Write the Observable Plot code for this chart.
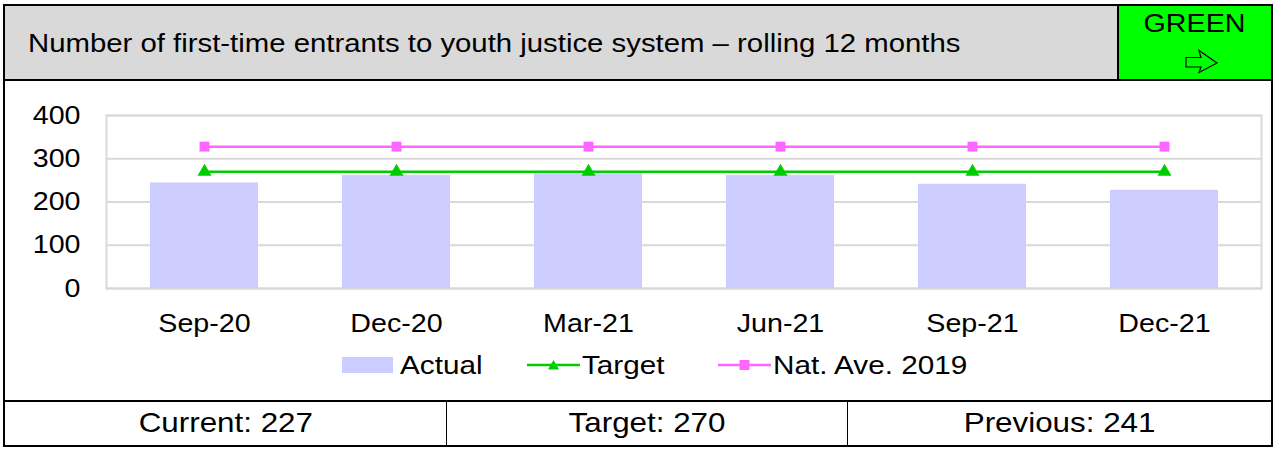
<!DOCTYPE html>
<html>
<head>
<meta charset="utf-8">
<script src="https://cdn.jsdelivr.net/npm/d3@7"></script>
<script src="https://cdn.jsdelivr.net/npm/@observablehq/plot@0.6"></script>
<style>
  html, body { margin: 0; padding: 0; background: #fff; }
  body { width: 1274px; height: 450px; position: relative; overflow: hidden;
         font-family: "Liberation Sans", Arial, sans-serif; color: #000; }
  .abs { position: absolute; }
  .sx { display: inline-block; transform: scaleX(1.12); transform-origin: left center; white-space: nowrap; }
  .sxc { display: inline-block; transform: scaleX(1.12); transform-origin: center center; white-space: nowrap; }
  #chart { position: absolute; left: 0; top: 82px; }
</style>
</head>
<body>
<!-- header fills -->
<div class="abs" style="left:5px;top:6px;width:1112px;height:73px;background:#d9d9d9"></div>
<div class="abs" style="left:1119px;top:6px;width:152px;height:73px;background:#00ff00"></div>
<!-- frame lines -->
<div class="abs" style="left:3px;top:4px;width:1270px;height:2px;background:#000"></div>
<div class="abs" style="left:3px;top:4px;width:2px;height:443px;background:#000"></div>
<div class="abs" style="left:1271px;top:4px;width:2px;height:443px;background:#000"></div>
<div class="abs" style="left:3px;top:79px;width:1270px;height:2px;background:#000"></div>
<div class="abs" style="left:1117px;top:4px;width:2px;height:77px;background:#000"></div>
<div class="abs" style="left:3px;top:400px;width:1270px;height:2px;background:#000"></div>
<div class="abs" style="left:3px;top:445px;width:1270px;height:2px;background:#000"></div>
<div class="abs" style="left:446px;top:400px;width:1px;height:46px;background:#000"></div>
<div class="abs" style="left:847px;top:400px;width:1px;height:46px;background:#000"></div>

<div id="title" class="abs" style="left:28px;top:28px;font-size:26.2px;line-height:30px"><span class="sx"></span></div>
<div id="status" class="abs" style="left:1119px;top:8px;width:152px;text-align:center;font-size:25.6px;line-height:30px"><span class="sxc"></span></div>
<svg class="abs" style="left:0;top:0" width="1274" height="90">
  <polygon points="1186,57.5 1201,57.5 1199,50.5 1217,63 1199,72.5 1201,67 1186,67" fill="none" stroke="#000" stroke-width="1.2" stroke-linejoin="miter"/>
</svg>

<div id="chart"></div>
<div id="legend" class="abs" style="left:0;top:348px;width:1274px;height:34px"></div>

<div id="cell0" class="abs" style="left:5px;top:404px;width:441px;text-align:center;font-size:28px;line-height:38px"><span class="sxc"></span></div>
<div id="cell1" class="abs" style="left:447px;top:404px;width:400px;text-align:center;font-size:28px;line-height:38px"><span class="sxc"></span></div>
<div id="cell2" class="abs" style="left:848px;top:404px;width:423px;text-align:center;font-size:28px;line-height:38px"><span class="sxc"></span></div>

<script>
// ---- data ----
const titleText = "Number of first-time entrants to youth justice system \u2013 rolling 12 months";
const statusText = "GREEN";
const quarters = ["Sep-20", "Dec-20", "Mar-21", "Jun-21", "Sep-21", "Dec-21"];
const actual = [244, 261, 265, 261, 241, 227];
const target = [270, 270, 270, 270, 270, 270];
const natAve = [328, 328, 328, 328, 328, 328];
const yTicks = [0, 100, 200, 300, 400];
const seriesNames = ["Actual", "Target", "Nat. Ave. 2019"];
const summaryLabels = ["Current: 227", "Target: 270", "Previous: 241"];

// ---- styles ----
const barColor = "#ccccff";
const targetColor = "#00cc00";
const natColor = "#ff66ff";
const gridColor = "#d9d9d9";

document.querySelector("#title span").textContent = titleText;
document.querySelector("#status span").textContent = statusText;
summaryLabels.forEach((t, i) => document.querySelector(`#cell${i} span`).textContent = t);

const data = quarters.map((q, i) => ({q, actual: actual[i], target: target[i], nat: natAve[i]}));

const chart = Plot.plot({
  width: 1274,
  height: 260,
  marginLeft: 106,
  marginRight: 13,
  marginTop: 33,
  marginBottom: 54,
  style: {fontFamily: "'Liberation Sans', Arial, sans-serif", fontSize: "25.6px", color: "#000", background: "transparent", overflow: "visible"},
  x: {type: "band", domain: quarters, paddingInner: 0.44, paddingOuter: 0.22, label: null, tickSize: 0, tickPadding: 25},
  y: {domain: [0, 400], ticks: yTicks, label: null, tickSize: 0, tickPadding: 26},
  marks: [
    Plot.ruleY(yTicks, {stroke: gridColor, strokeWidth: 2}),
    Plot.frame({stroke: gridColor, strokeWidth: 2}),
    Plot.barY(data, {x: "q", y: "actual", fill: barColor}),
    Plot.lineY(data, {x: "q", y: "nat", stroke: natColor, strokeWidth: 2.5}),
    Plot.dot(data, {x: "q", y: "nat", symbol: "square", r: 5.6, fill: natColor, stroke: "none"}),
    Plot.lineY(data, {x: "q", y: "target", stroke: targetColor, strokeWidth: 2.5}),
    Plot.dot(data, {x: "q", y: "target", symbol: "triangle", r: 5.2, fill: targetColor, stroke: "none"})
  ]
});
// widen tick labels horizontally to match the reference's text proportions
chart.querySelectorAll("g[aria-label$='tick label'] text").forEach(t => {
  const tr = t.getAttribute("transform") || "";
  t.setAttribute("transform", tr + " scale(1.12,1)");
});
document.getElementById("chart").appendChild(chart);

// ---- legend ----
const legend = document.getElementById("legend");
const items = [
  {name: seriesNames[0], kind: "bar", color: barColor, x: 342},
  {name: seriesNames[1], kind: "line", color: targetColor, x: 527, sym: "triangle"},
  {name: seriesNames[2], kind: "line", color: natColor, x: 718, sym: "square"}
];
items.forEach(it => {
  const sw = document.createElementNS("http://www.w3.org/2000/svg", "svg");
  sw.setAttribute("width", 54); sw.setAttribute("height", 34);
  sw.style.position = "absolute"; sw.style.left = it.x + "px"; sw.style.top = "0px";
  if (it.kind === "bar") {
    sw.innerHTML = `<rect x="0" y="9" width="51" height="16" fill="${it.color}"/>`;
  } else {
    const mk = it.sym === "square"
      ? `<rect x="21.5" y="12" width="10" height="10" fill="${it.color}"/>`
      : `<path d="M26.5,12 L32,21.5 L21,21.5 Z" fill="${it.color}"/>`;
    sw.innerHTML = `<line x1="0" y1="17" x2="53" y2="17" stroke="${it.color}" stroke-width="2.5"/>` + mk;
  }
  legend.appendChild(sw);
  const tx = document.createElement("div");
  tx.className = "abs";
  tx.style.left = (it.kind === "bar" ? it.x + 58 : it.x + 55) + "px";
  tx.style.top = "0px";
  tx.style.fontSize = "26.5px";
  tx.style.lineHeight = "34px";
  tx.innerHTML = `<span class="sx">${it.name}</span>`;
  legend.appendChild(tx);
});
</script>
</body>
</html>
